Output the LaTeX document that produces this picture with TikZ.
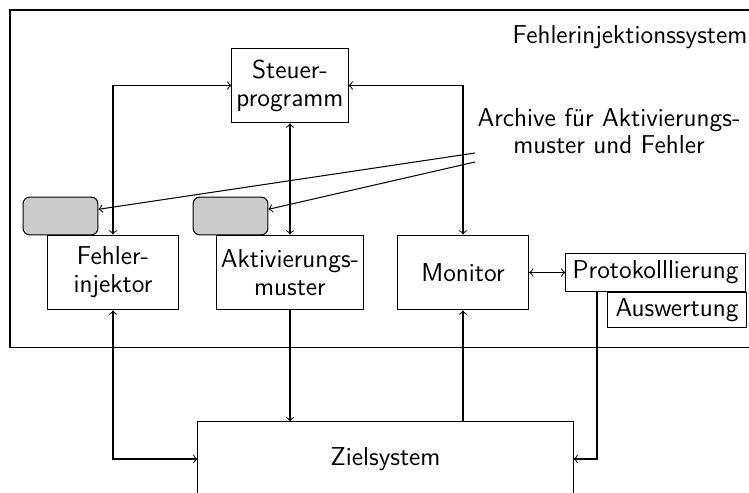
\documentclass[tikz,border=0pt]{standalone}
\usetikzlibrary{positioning}

\def \unitPx {0.01562cm}
\def \boxHeight {1.17cm}

\tikzset{
  block/.style={draw, fill=white, align=center, inner sep=2pt, minimum height=\boxHeight},
  small block/.style={draw, fill=white, inner sep=2pt},
  archive/.style={draw, fill=black!20, rounded corners=3pt, minimum width=1.17cm, minimum height=0.59cm},
}

\begin{document}
\begin{tikzpicture}[x=\unitPx, y=-\unitPx, font=\sffamily\fontsize{11.5}{12.4}\selectfont, >=to, line width=0.46pt]
      \clip (0,0) rectangle (749,493);
      \draw (10,10) rectangle (800,347.7);
      \node (sys) at (630,37) {Fehlerinjektionssystem};
      \node[align=center] (archtext) at (609,131) {Archive f\"ur Aktivierungs-\\muster und Fehler};

      \node[block, minimum width=1.80cm] (steuer) at (290,85.5) {Steuer-\\programm};
      \node[block, minimum width=2.06cm] (fehler) at (113,272.5) {Fehler-\\injektor};
      \node[block, minimum width=2.25cm] (aktiv) at (290,272.5) {Aktivierungs-\\muster};
      \node[block, minimum width=2.05cm] (monitor) at (463,272.5) {Monitor};
      \node[small block, minimum width=2.16cm, minimum height=0.56cm] (auswertung) at (677,310) {Auswertung};
      \node[small block, minimum width=2.80cm, minimum height=0.58cm] (protokoll) at (655.5,272.5) {Protokolllierung};
      \node[archive] (archF) at (60.5,216) {};
      \node[archive] (archA) at (230.5,216) {};
      \node[block, minimum width=5.86cm, minimum height=1.16cm] (ziel) at (385.5,459) {Zielsystem};

      \coordinate (archF in) at (475,153);
      \coordinate (archA in) at (475,162);
      \coordinate (pkout) at (597,291);

      \draw[<->] (fehler.north) |- (steuer.west);
      \draw[<->] (monitor.north) |- (steuer.east);
      \draw[<->] (steuer.south) -- (aktiv.north);
      \draw[<->] (monitor.east) -- (protokoll.west);
      \draw[->] (archF in) -- (archF.10);
      \draw[->] (archA in) -- (archA.10);
      \draw[<->] (fehler.south) |- (ziel.west);
      \draw[->] (aktiv.south) -- (aktiv.south |- ziel.north);
      \draw[->] (monitor.south |- ziel.north) -- (monitor.south);
      \draw[->] (pkout) |- (ziel.east);
   \end{tikzpicture}
\end{document}
